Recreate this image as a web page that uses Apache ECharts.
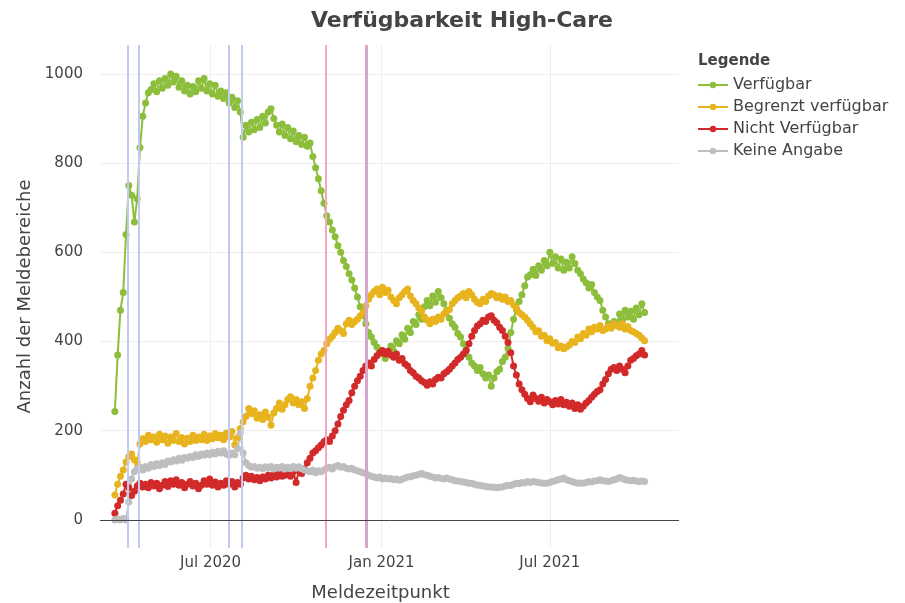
<!DOCTYPE html>
<html>
<head>
<meta charset="utf-8">
<script src="https://cdn.jsdelivr.net/npm/echarts@6/dist/echarts.min.js"></script>
<style>
  html, body { margin: 0; padding: 0; background: #fff; }
  #chart { width: 905px; height: 603px; }
</style>
</head>
<body>
<div id="chart"></div>
<script>
// Meldungen ab 20.03.2020, ein Wert alle 3 Tage
const startDatum = [2020, 2, 20];
const schrittTage = 3;

const verfuegbar = [
  243, 370, 470, 510, 640, 750, 728, 668, 720, 835,
  905, 935, 958, 965, 978, 960, 985, 968, 990, 975,
  1000, 982, 995, 970, 985, 962, 975, 955, 972, 960,
  985, 968, 990, 962, 978, 955, 975, 950, 962, 945,
  958, 935, 948, 925, 940, 915, 858, 885, 870, 892,
  875, 898, 880, 905, 890, 915, 922, 900, 885, 870,
  888, 862, 880, 855, 872, 848, 862, 842, 858, 838,
  845, 815, 790, 765, 738, 710, 682, 668, 650, 635,
  615, 600, 582, 568, 552, 538, 520, 500, 478, 458,
  440, 420, 410, 398, 388, 380, 372, 362, 375, 390,
  378, 402, 395, 415, 405, 430, 420, 445, 438, 460,
  450, 478, 492, 480, 502, 488, 512, 498, 485, 470,
  452, 440, 432, 418, 410, 395, 382, 365, 352, 345,
  335, 342, 328, 318, 325, 300, 318, 332, 338, 355,
  365, 385, 420, 450, 472, 490, 505, 525, 545, 550,
  562, 548, 570, 560, 582, 570, 600, 575, 590, 565,
  585, 560, 578, 565, 590, 575, 560, 552, 540, 532,
  520, 528, 510, 500, 492, 470, 455, 440, 432, 445,
  438, 462, 448, 470, 455, 468, 450, 475, 460, 485,
  465
];

const begrenzt = [
  56, 80, 98, 112, 130, 142, 148, 135, 128, 170,
  182, 176, 190, 180, 186, 174, 192, 180, 188, 172,
  186, 178, 194, 176, 185, 170, 183, 176, 190, 178,
  186, 180, 192, 178, 188, 182, 194, 184, 190, 180,
  195, 186, 198, 168, 185, 205, 220, 232, 250, 238,
  245, 228, 236, 225, 242, 230, 212, 240, 250, 262,
  248, 258, 270, 276, 262, 270, 258, 265, 250, 272,
  300, 318, 335, 358, 372, 380, 395, 405, 412, 420,
  430, 425, 418, 440, 448, 438, 445, 450, 458, 465,
  480, 495, 505, 512, 518, 505, 522, 510, 515, 500,
  492, 485, 498, 505, 512, 518, 502, 492, 485, 475,
  468, 455, 448, 440, 450, 445, 455, 450, 462, 468,
  472, 485, 492, 498, 502, 508, 498, 512, 505, 495,
  488, 485, 495, 490, 502, 508, 505, 498, 502, 495,
  500, 490, 492, 482, 475, 465, 460, 455, 448, 440,
  432, 422, 424, 412, 414, 402, 406, 396, 398, 386,
  390, 384, 388, 392, 400, 398, 410, 406, 418, 414,
  428, 422, 432, 428, 436, 425, 428, 435, 430, 440,
  436, 432, 440, 428, 434, 425, 422, 418, 414, 408,
  402
];

const nichtVerfuegbar = [
  15, 32, 44, 58, 80, 72, 55, 64, 76, 82,
  74, 80, 72, 84, 76, 82, 70, 78, 86, 75,
  88, 80, 90, 78, 84, 72, 80, 86, 76, 82,
  70, 78, 88, 80, 92, 78, 85, 74, 82, 78,
  88, 80, 86, 74, 84, 80, 94, 100, 92, 98,
  90, 95, 88, 96, 92, 100, 94, 102, 96, 104,
  98, 100, 106, 98, 108, 84, 110, 104, 115, 128,
  138, 150, 155, 162, 168, 175, 180, 176, 188, 200,
  215, 232, 246, 258, 268, 285, 300, 312, 322, 335,
  345, 352, 345, 360, 368, 375, 380, 372, 378, 370,
  365, 372, 358, 362, 350, 345, 335, 330, 322, 318,
  312, 308, 302, 310, 305, 315, 320, 318, 328, 332,
  338, 345, 352, 360, 365, 372, 380, 395, 412, 425,
  435, 440, 448, 445, 455, 458, 448, 442, 432, 425,
  412, 398, 375, 345, 325, 305, 292, 282, 272, 265,
  280, 272, 266, 275, 262, 270, 265, 258, 268, 260,
  270, 258, 264, 255, 262, 250, 258, 248, 255, 262,
  268, 275, 282, 288, 292, 305, 315, 328, 338, 342,
  335, 345, 338, 330, 345, 358, 362, 368, 372, 380,
  370
];

const keineAngabe = [
  0, 2, 0, 3, 0, 40, 92, 108, 115, 118,
  112, 120, 116, 124, 120, 126, 122, 128, 124, 132,
  130, 135, 132, 138, 134, 140, 138, 142, 140, 146,
  142, 148, 145, 150, 146, 152, 148, 154, 150, 155,
  148, 145, 150, 146, 160, 195, 150, 128, 122, 118,
  120, 116, 118, 115, 119, 116, 120, 114, 118, 116,
  120, 114, 118, 115, 120, 116, 119, 115, 112, 110,
  108, 112, 106, 110, 108, 112, 116, 118, 114, 120,
  122, 118, 120, 116, 114, 116, 112, 110, 108, 106,
  104, 100, 98, 96, 94, 96, 92, 94, 92, 93,
  90, 92, 89, 91, 94, 96, 97, 99, 100, 102,
  104, 101, 100, 98, 96, 94, 95, 93, 92, 94,
  92, 90, 88, 87, 86, 85, 84, 82, 82, 80,
  78, 78, 76, 75, 74, 74, 73, 72, 73, 74,
  76, 78, 77, 80, 82, 81, 84, 83, 86, 84,
  86, 85, 84, 83, 82, 82, 84, 86, 88, 90,
  92, 94, 90, 88, 86, 84, 82, 83, 82, 84,
  86, 85, 87, 88, 90, 88, 87, 86, 88, 90,
  92, 95, 93, 90, 89, 88, 89, 87, 86, 87,
  86
];

// Ereignislinien (Datum)
const ereignisseBlau = ['2020-04-03', '2020-04-15', '2020-07-20', '2020-08-04'];
const ereignisseRosa = ['2020-11-02'];
const ereignisseLila = ['2020-12-16'];

// Achsen
const xTicks = ['2020-07-01', '2021-01-01', '2021-07-01'];
const yTicks = [0, 200, 400, 600, 800, 1000];
const monate = ['Jan', 'Feb', 'Mar', 'Apr', 'May', 'Jun', 'Jul', 'Aug', 'Sep', 'Oct', 'Nov', 'Dec'];

const toTime = s => new Date(s + 'T00:00:00').getTime();
const meldedatum = verfuegbar.map((_, i) =>
  new Date(startDatum[0], startDatum[1], startDatum[2] + i * schrittTage).getTime());

const FONT = 'DejaVu Sans';

const lineSeries = (name, values, color) => ({
  name: name,
  type: 'line',
  data: meldedatum.map((t, i) => [t, values[i]]),
  symbol: 'circle',
  symbolSize: 7,
  showSymbol: true,
  lineStyle: { color: color, width: 2 },
  itemStyle: { color: color },
  emphasis: { disabled: true },
  z: 3
});

const vLine = (d, color, width) => ({
  xAxis: toTime(d),
  lineStyle: { color: color, width: width, type: 'solid', opacity: 1 }
});

const chart = echarts.init(document.getElementById('chart'));

chart.setOption({
  animation: false,
  textStyle: { fontFamily: FONT },
  title: [
    {
      text: 'Verfügbarkeit High-Care',
      left: 457,
      textAlign: 'center',
      top: 5,
      textStyle: { fontSize: 22, fontWeight: 'bold', color: '#444', fontFamily: FONT }
    },
    {
      text: 'Legende',
      left: 693,
      top: 49,
      textStyle: { fontSize: 15, fontWeight: 'bold', color: '#444', fontFamily: FONT }
    }
  ],
  legend: {
    orient: 'vertical',
    left: 692,
    top: 72,
    itemWidth: 30,
    itemHeight: 8,
    itemGap: 6,
    textStyle: { fontSize: 16, color: '#444', fontFamily: FONT },
    data: ['Verfügbar', 'Begrenzt verfügbar', 'Nicht Verfügbar', 'Keine Angabe']
  },
  grid: { left: 100, right: 226, top: 45, bottom: 55, outerBoundsMode: 'none', containLabel: false },
  xAxis: {
    type: 'value',
    min: toTime('2020-03-04'),
    max: toTime('2021-11-17'),
    axisLine: { show: false },
    axisTick: { show: false, customValues: xTicks.map(toTime) },
    splitLine: { show: true, lineStyle: { color: '#eee', width: 1 } },
    axisLabel: {
      customValues: xTicks.map(toTime),
      formatter: v => { const d = new Date(v); return monate[d.getMonth()] + ' ' + d.getFullYear(); },
      color: '#444',
      fontSize: 15,
      margin: 8,
      fontFamily: FONT
    },
    name: 'Meldezeitpunkt',
    nameLocation: 'middle',
    nameGap: 36,
    nameTextStyle: { fontSize: 18, color: '#444', fontFamily: FONT, padding: [0, 18, 0, 0] }
  },
  yAxis: {
    type: 'value',
    min: -63,
    max: 1065,
    axisLine: { show: false },
    axisTick: { show: false, customValues: yTicks },
    splitLine: { show: true, lineStyle: { color: '#eee', width: 1 } },
    axisLabel: {
      customValues: yTicks,
      formatter: v => String(v),
      color: '#444',
      fontSize: 15,
      margin: 17,
      fontFamily: FONT
    },
    name: 'Anzahl der Meldebereiche',
    nameLocation: 'middle',
    nameGap: 57,
    nameTextStyle: { fontSize: 18, color: '#444', fontFamily: FONT }
  },
  series: [
    {
      name: 'Ereignisse',
      type: 'line',
      data: [],
      silent: true,
      z: 1,
      markLine: {
        silent: true,
        symbol: ['none', 'none'],
        label: { show: false },
        animation: false,
        data: [
          ...ereignisseBlau.map(d => vLine(d, '#c1cbf1', 2)),
          ...ereignisseRosa.map(d => vLine(d, '#f3a7c0', 2)),
          ...ereignisseLila.map(d => vLine(d, '#d8a6cb', 3)),
          { yAxis: 0, lineStyle: { color: '#444', width: 1, type: 'solid' } }
        ]
      }
    },
    lineSeries('Verfügbar', verfuegbar, '#8cbe3c'),
    lineSeries('Begrenzt verfügbar', begrenzt, '#e8b41e'),
    lineSeries('Nicht Verfügbar', nichtVerfuegbar, '#d22a2a'),
    lineSeries('Keine Angabe', keineAngabe, '#bebebe')
  ]
});
</script>
</body>
</html>
